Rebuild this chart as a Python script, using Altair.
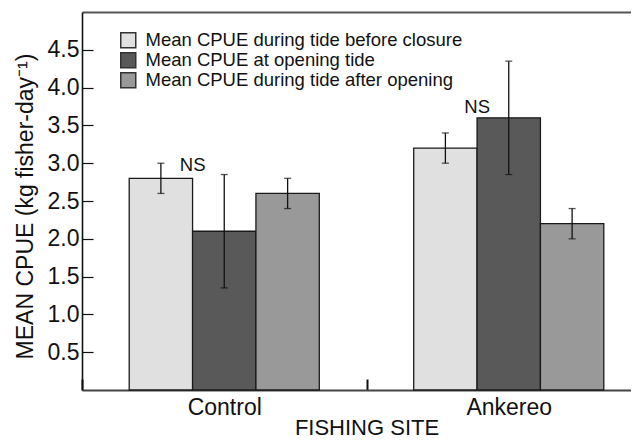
import altair as alt
import pandas as pd

sites = ["Control", "Ankereo"]
groups = [
    "Mean CPUE during tide before closure",
    "Mean CPUE at opening tide",
    "Mean CPUE during tide after opening",
]
colors = ["#e0e0e0", "#595959", "#999999"]

mean_control = [2.8, 2.1, 2.6]
mean_ankereo = [3.2, 3.6, 2.2]
low_control = [2.6, 1.35, 2.4]
low_ankereo = [3.0, 2.85, 2.0]
high_control = [3.0, 2.85, 2.8]
high_ankereo = [3.4, 4.35, 2.4]

ns_labels = ["NS", "NS"]
ns_y = [2.97, 3.75]

y_ticks = [0.5, 1.0, 1.5, 2.0, 2.5, 3.0, 3.5, 4.0, 4.5]

rows = []
for site, means, lows, highs in [
    ("Control", mean_control, low_control, high_control),
    ("Ankereo", mean_ankereo, low_ankereo, high_ankereo),
]:
    for g, m, lo, hi in zip(groups, means, lows, highs):
        rows.append({"site": site, "group": g, "mean": m, "lo": lo, "hi": hi})
df = pd.DataFrame(rows)
ns_df = pd.DataFrame({"site": sites, "label": ns_labels, "y": ns_y})

FONT = "Liberation Sans"

x_scale = alt.Scale(range=[0, 569], paddingInner=0, paddingOuter=0)
y_scale = alt.Scale(domain=[0, 5], nice=False, zero=True)
xoff = alt.XOffset(
    "group:N", sort=groups, scale=alt.Scale(paddingInner=0, paddingOuter=0.745)
)

x_main = alt.X(
    "site:N",
    sort=sites,
    scale=x_scale,
    axis=alt.Axis(
        orient="bottom",
        title="FISHING SITE",
        domain=False,
        ticks=True,
        tickBand="extent",
        tickSize=11,
        tickWidth=2,
        tickColor="#111",
        offset=-11,
        labelPadding=6,
        labelFontSize=23,
        labelAngle=0,
        titleFontSize=22,
        titleBaseline="alphabetic",
        titleY=55,
    ),
)
y_main = alt.Y(
    "mean:Q",
    scale=y_scale,
    axis=alt.Axis(
        orient="left",
        title="MEAN CPUE (kg fisher-day\u207b\u00b9)",
        values=y_ticks,
        format=".1f",
        domain=False,
        tickSize=11,
        tickWidth=1.2,
        tickColor="#111",
        offset=-11,
        labelPadding=3,
        labelFontSize=23,
        titleFontSize=23,
        titlePadding=10,
        titleY=194,
        grid=False,
    ),
)

bars = alt.Chart(df).mark_bar(stroke="#1a1a1a", strokeWidth=1.3).encode(
    x=x_main,
    xOffset=xoff,
    y=y_main,
    color=alt.Color(
        "group:N",
        sort=groups,
        scale=alt.Scale(domain=groups, range=colors),
        legend=alt.Legend(
            title=None,
            orient="none",
            legendX=37,
            legendY=19,
            symbolType="square",
            symbolSize=225,
            symbolStrokeColor="#333",
            symbolStrokeWidth=1.5,
            symbolOpacity=1,
            labelFontSize=18.5,
            labelLimit=500,
            labelOffset=8,
            rowPadding=-2.5,
        ),
    ),
)

# frame lines: left and bottom
rules = alt.Chart(df).mark_rule(color="#111", strokeWidth=1.3).encode(
    x=alt.X(
        "site:N",
        sort=sites,
        axis=alt.Axis(
            orient="bottom", domain=True, domainColor="#444", domainWidth=2,
            ticks=False, labels=False, title=None, offset=0,
        ),
    ),
    xOffset=xoff,
    y=alt.Y(
        "lo:Q",
        scale=y_scale,
        axis=alt.Axis(
            orient="left", domain=True, domainColor="#111", domainWidth=1.6,
            ticks=False, labels=False, title=None, offset=0, grid=False,
        ),
    ),
    y2="hi:Q",
)
# frame line: top
caps_lo = alt.Chart(df).mark_tick(color="#111", size=7, thickness=1.3).encode(
    x=alt.X(
        "site:N",
        sort=sites,
        axis=alt.Axis(
            orient="top", domain=True, domainColor="#555", domainWidth=2.2,
            ticks=False, labels=False, title=None, offset=0,
        ),
    ),
    xOffset=xoff,
    y=alt.Y("lo:Q", scale=y_scale, axis=None),
)
caps_hi = alt.Chart(df).mark_tick(color="#111", size=7, thickness=1.3).encode(
    x=alt.X("site:N", sort=sites, axis=None),
    xOffset=xoff,
    y=alt.Y("hi:Q", scale=y_scale, axis=None),
)
ns = alt.Chart(ns_df).mark_text(
    fontSize=18.5, font=FONT, dx=-31.6, baseline="middle", color="#111"
).encode(
    x=alt.X("site:N", sort=sites, axis=None),
    y=alt.Y("y:Q", scale=y_scale, axis=None),
    text="label:N",
)

chart = (
    alt.layer(bars, rules, caps_lo, caps_hi, ns)
    .resolve_axis(x="independent", y="independent")
    .properties(
        width=549,
        height=378,
        autosize=alt.AutoSizeParams(type="none"),
        padding={"left": 74, "top": 4, "right": 0, "bottom": 49},
    )
    .configure(font=FONT)
    .configure_view(stroke=None)
    .configure_axis(
        labelColor="#111",
        titleColor="#111",
        titleFontWeight="normal",
        labelFont=FONT,
        titleFont=FONT,
    )
    .configure_legend(labelFont=FONT, labelColor="#111")
)

chart.save("out.html", embed_options={"renderer": "svg", "actions": False})
